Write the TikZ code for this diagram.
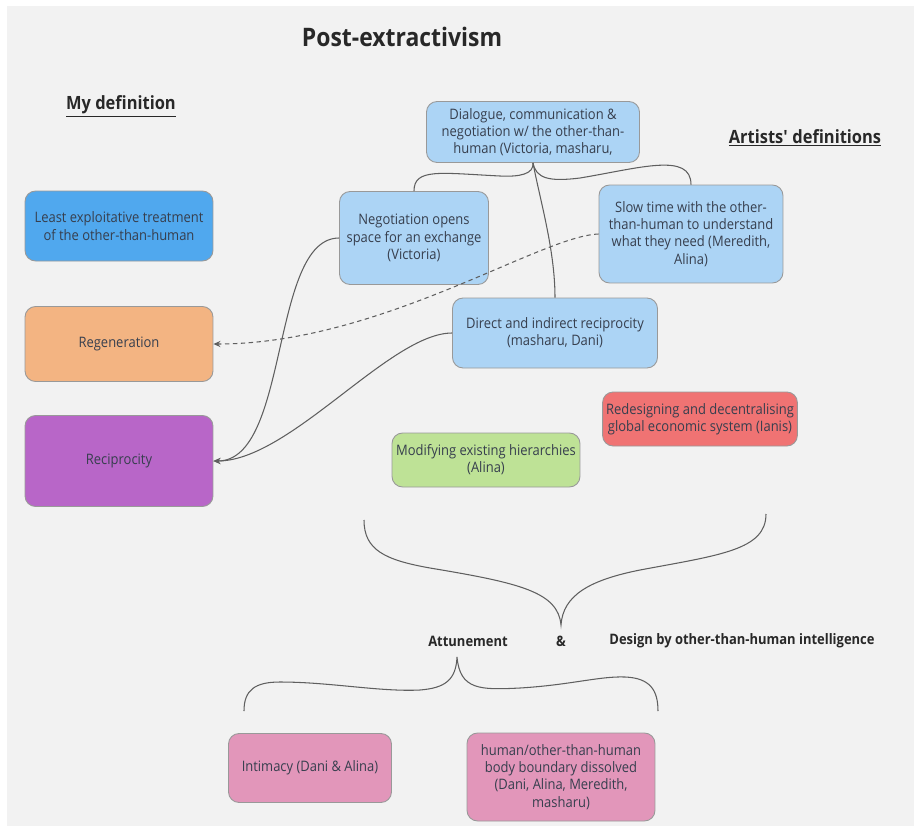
\documentclass[tikz,border=0pt]{standalone}
\usepackage{fontspec}
\setmainfont{Open Sans}[FakeStretch=0.9]
\usetikzlibrary{arrows.meta}

\definecolor{bggray}{RGB}{242,242,242}
\definecolor{textdark}{RGB}{55,63,78}
\definecolor{headdark}{RGB}{40,40,40}
\definecolor{linkgray}{RGB}{95,95,95}
\definecolor{artblue}{RGB}{172,212,245}
\definecolor{leastblue}{RGB}{80,168,238}
\definecolor{regenorange}{RGB}{243,180,130}
\definecolor{recippurple}{RGB}{184,102,200}
\definecolor{redesignred}{RGB}{240,115,115}
\definecolor{modifygreen}{RGB}{190,226,150}
\definecolor{attunepink}{RGB}{226,150,186}

\begin{document}
\begin{tikzpicture}[
  x=0.02cm, y=-0.02cm,
  box/.style = {draw=black!40, line width=0.5pt, rounded corners=6pt, align=center,
                font=\fontsize{8.2}{9.8}\selectfont, text=textdark, inner sep=2pt},
  artist/.style = {box, fill=artblue},
  heading/.style = {font=\fontsize{10.4}{12}\selectfont\bfseries, text=headdark},
  label/.style = {font=\fontsize{8.2}{10}\selectfont\bfseries, text=headdark},
  link/.style = {draw=linkgray, line width=0.6pt},
  arrow/.style = {link, -{Stealth[length=4pt, width=3.5pt]}},
  brace/.style = {draw=linkgray, line width=0.6pt}
]

% Canvas
\useasboundingbox (0,0) rectangle (914,826);
\fill[bggray] (7,6) rectangle (914,826);

% Headings
\node[font=\fontsize{14.5}{17}\selectfont\bfseries, text=headdark] (title) at (402,37) {Post-extractivism};
\node[heading] (mydef) at (121,106) {\underline{My definition}};
\node[heading] (artdef) at (805,138) {\underline{Artists\textquotesingle\ definitions}};

% My definition
\node[box, fill=leastblue, minimum width=3.76cm, minimum height=1.4cm] (least) at (119,226)
  {Least exploitative treatment\\of the other-than-human};
\node[box, fill=regenorange, minimum width=3.76cm, minimum height=1.5cm] (regen) at (119,344)
  {Regeneration};
\node[box, fill=recippurple, minimum width=3.76cm, minimum height=1.82cm] (recip) at (119,461)
  {Reciprocity};

% Artists' definitions
\node[artist, minimum width=4.26cm, minimum height=1.22cm] (dialog) at (533,132)
  {Dialogue, communication \&\\negotiation w/ the other-than-\\human (Victoria, masharu,};
\node[artist, minimum width=2.98cm, minimum height=1.86cm] (nego) at (414,238)
  {Negotiation opens\\space for an exchange\\(Victoria)};
\node[artist, minimum width=3.68cm, minimum height=1.96cm] (slow) at (691,234)
  {Slow time with the other-\\than-human to understand\\what they need (Meredith,\\Alina)};
\node[artist, minimum width=4.1cm, minimum height=1.4cm] (direct) at (555,333)
  {Direct and indirect reciprocity\\(masharu, Dani)};
\node[box, fill=redesignred, minimum width=3.68cm, minimum height=1.08cm] (redesign) at (700,419)
  {Redesigning and decentralising\\global economic system (Ianis)};
\node[box, fill=modifygreen, minimum width=3.76cm, minimum height=1.08cm] (modify) at (486,460)
  {Modifying existing hierarchies\\(Alina)};

% Branches from the dialogue box
\coordinate (lmid) at (500,176);
\coordinate (rmid) at (580,178);
\draw[link] (dialog.south) .. controls (534,174) and (520,177) .. (lmid)
  .. controls (440,173) and (414,168) .. (nego.north);
\draw[link] (dialog.south) .. controls (536,178) and (548,182) .. (rmid)
  .. controls (640,168) and (691,152) .. (slow.north);
\draw[link] (dialog.south) .. controls (540,200) and (555,250) .. (direct.north);

% Links to my definition
\draw[arrow] (nego.west) .. controls (270,238) and (290,461) .. (recip.east);
\draw[arrow] (direct.west) .. controls (390,333) and (290,461) .. (recip.east);
\draw[arrow, dash pattern=on 2.5pt off 2pt] (slow.west) .. controls (540,236) and (380,344) .. (regen.east);

% Big brace
\coordinate (bigtip) at (561,625);
\draw[brace] (364,520) .. controls (364,550) and (385,560) .. (430,568)
  .. controls (520,583) and (558,592) .. (bigtip)
  .. controls (563,595) and (590,580) .. (640,570)
  .. controls (720,555) and (766,550) .. (766,514);

% Outcomes
\node[label] (attune) at (468,641) {Attunement};
\node[label] (amp) at (561,641) {\&};
\node[label] (design) at (742,641) {Design by other-than-human intelligence};

% Small brace
\coordinate (smalltip) at (457,657);
\draw[brace] (244,711) .. controls (244,690) and (255,682) .. (280,682)
  .. controls (330,682) and (380,692) .. (420,690)
  .. controls (445,688) and (456,680) .. (smalltip)
  .. controls (460,690) and (480,690) .. (520,688)
  .. controls (570,685) and (600,676) .. (625,677)
  .. controls (650,678) and (658,690) .. (658,711);

% Attunement boxes
\node[box, fill=attunepink, minimum width=3.26cm, minimum height=1.38cm] (intim) at (310,768)
  {Intimacy (Dani \& Alina)};
\node[box, fill=attunepink, minimum width=3.76cm, minimum height=1.76cm] (body) at (561,777)
  {human/other-than-human\\body boundary dissolved\\(Dani, Alina, Meredith,\\masharu)};

\end{tikzpicture}
\end{document}
